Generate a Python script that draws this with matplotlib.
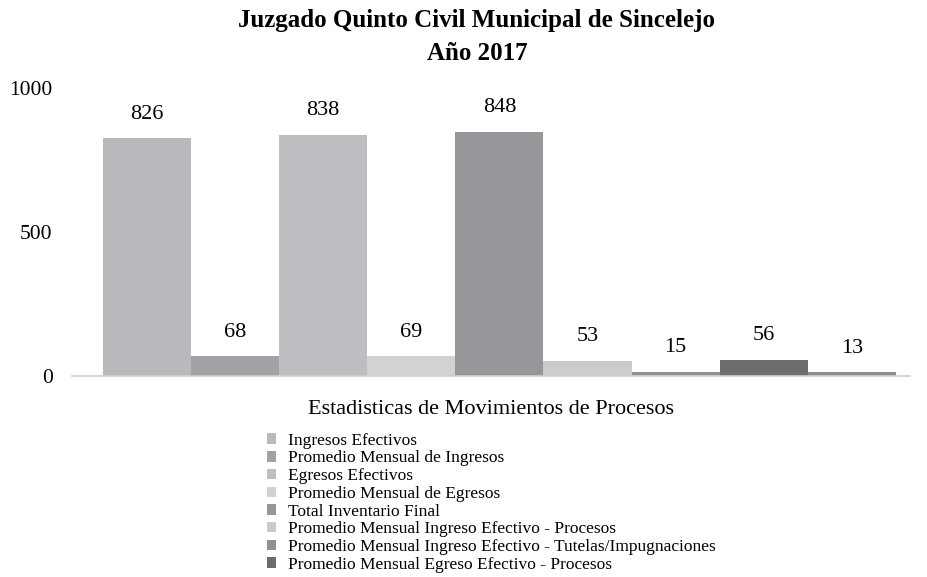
import matplotlib.pyplot as plt
import numpy as np

# Datos del grafico
series = [
    'Ingresos Efectivos',
    'Promedio Mensual de Ingresos',
    'Egresos Efectivos',
    'Promedio Mensual de Egresos',
    'Total Inventario Final',
    'Promedio Mensual Ingreso Efectivo - Procesos',
    'Promedio Mensual Ingreso Efectivo - Tutelas/Impugnaciones',
    'Promedio Mensual Egreso Efectivo - Procesos',
    'Promedio Mensual Egreso Efectivo - Tutelas/Impugnaciones',
]
values = [826, 68, 838, 69, 848, 53, 15, 56, 13]
colors = ['#b9babd', '#a1a2a5', '#bdbec1', '#d1d2d4', '#96979b',
          '#cacbcd', '#8f9094', '#6b6c6f', '#8b8c8f']
yticks = [0, 500, 1000]

plt.rcParams['font.family'] = ['Liberation Serif', 'DejaVu Serif']

fig = plt.figure(figsize=(9.27, 5.77), dpi=100)
ax = fig.add_axes([72 / 927, 1 - 376 / 577, (910 - 72) / 927, 288 / 577])

x = np.arange(len(values))
bars = ax.bar(x, values, width=1.0, color=colors, label=series)
for xi, v in zip(x, values):
    ax.text(xi, v + 50, str(v), ha='center', va='bottom', fontsize=16)

ax.set_xlim(-0.85, 8.66)
ax.set_ylim(0, 1000)
ax.set_yticks(yticks)
ax.set_yticklabels([str(t) for t in yticks], fontsize=15.5)
ax.tick_params(axis='y', length=0, pad=14)
ax.set_xticks([])
for s in ['top', 'right', 'left']:
    ax.spines[s].set_visible(False)
ax.spines['bottom'].set_color('#d0d0d0')
ax.spines['bottom'].set_linewidth(1.2)

ax.set_xlabel('Estadisticas de Movimientos de Procesos', fontsize=16, labelpad=17)

fig.text(477 / 927, 1 - 20 / 577, 'Juzgado Quinto Civil Municipal de Sincelejo',
         ha='center', va='center', fontsize=18, fontweight='bold')
fig.text(477 / 927, 1 - 53 / 577, 'Año 2017',
         ha='center', va='center', fontsize=18, fontweight='bold')

# la leyenda del original solo muestra las primeras 8 entradas
fig.legend(handles=bars.patches[:8], labels=series[:8], loc='upper left',
           bbox_to_anchor=(258 / 927, 1 - 424 / 577), frameon=False,
           fontsize=12.5, handlelength=0.55, handleheight=0.55, handletextpad=0.7,
           labelspacing=0.1, borderpad=0)

fig.savefig('out.png', dpi=100)
